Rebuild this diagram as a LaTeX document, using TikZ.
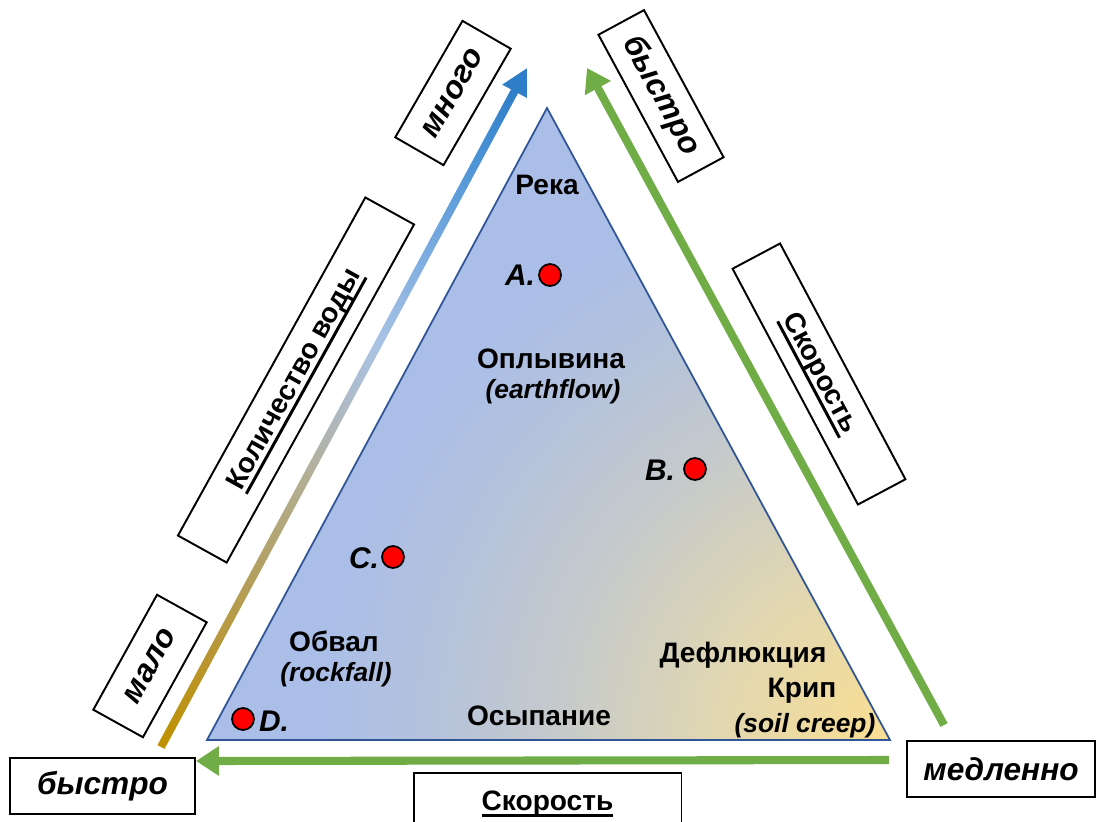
\documentclass[tikz,border=0pt]{standalone}
\usepackage{fontspec}
\setmainfont{Liberation Sans}
\usetikzlibrary{arrows.meta}
\definecolor{triblue}{RGB}{170,190,232}
\definecolor{triblueb}{RGB}{178,193,222}
\definecolor{trigrey}{RGB}{196,201,204}
\definecolor{tribeige}{RGB}{226,215,176}
\definecolor{triyellow}{RGB}{250,222,146}
\definecolor{triedgec}{RGB}{47,85,151}
\definecolor{wgold}{RGB}{191,144,0}
\definecolor{wgoldb}{RGB}{185,150,50}
\definecolor{wtan}{RGB}{178,162,105}
\definecolor{wtanb}{RGB}{178,175,150}
\definecolor{wgrey}{RGB}{175,185,195}
\definecolor{wlblue}{RGB}{170,195,228}
\definecolor{wmblue}{RGB}{130,175,225}
\definecolor{wmbluec}{RGB}{80,150,215}
\definecolor{wblue}{RGB}{46,125,200}
\definecolor{arrgreen}{RGB}{112,173,71}
\pgfdeclareradialshading{triradial}{\pgfpoint{0bp}{0bp}}{color(0bp)=(triyellow); color(5.9bp)=(tribeige); color(11.8bp)=(trigrey); color(16.7bp)=(triblueb); color(20.1bp)=(triblue); color(50bp)=(triblue)}
\pgfdeclarehorizontalshading{watershade}{100bp}{color(0bp)=(wgold); color(25bp)=(wgold); color(32bp)=(wgoldb); color(39.5bp)=(wtan); color(45.5bp)=(wtanb); color(50.5bp)=(wgrey); color(55.5bp)=(wlblue); color(61.5bp)=(wmblue); color(69bp)=(wmbluec); color(75bp)=(wblue); color(100bp)=(wblue)}
\newsavebox{\myulbox}
\newcommand{\myul}[1]{\leavevmode\sbox{\myulbox}{#1}\rlap{\rule[-4pt]{\wd\myulbox}{1.7pt}}\usebox{\myulbox}}
\begin{document}
\begin{tikzpicture}[x=0.02cm,y=-0.02cm,
  triedge/.style={draw=triedgec,line width=1pt,line join=miter},
  greenarrow/.style={draw=arrgreen,line width=4.6pt,-{Triangle[length=13pt,width=16pt]}},
  labelbox/.style={draw=black,fill=white,line width=1.1pt,inner sep=0pt,align=center},
  upbold/.style={font=\fontsize{16}{19}\selectfont\bfseries},
  itbold/.style={font=\fontsize{18}{21}\selectfont\bfseries\itshape},
  inlbl/.style={font=\fontsize{16}{19}\selectfont\bfseries,inner sep=0pt},
  inital/.style={font=\fontsize{15}{18}\selectfont\bfseries\itshape,inner sep=0pt},
  ptlbl/.style={font=\fontsize{17}{20}\selectfont\bfseries\itshape,inner sep=0pt},
  reddot/.style={circle,fill=red,draw=black,line width=1pt,minimum size=12.5pt,inner sep=0pt}]
\clip (0,0) rectangle (1097,821);
\fill[white] (0,0) rectangle (1097,821);
% triangle
\coordinate (apex) at (547,108);
\coordinate (bl) at (207,740);
\coordinate (br) at (890,740);
\begin{scope}
  \clip (apex) -- (bl) -- (br) -- cycle;
  \shade[shading=triradial] (170,20) rectangle (1610,1460);
\end{scope}
\draw[triedge] (apex) -- (bl) -- (br) -- cycle;
% water arrow (left)
\coordinate (wtail) at (161,747);
\coordinate (wtip) at (527,68);
\begin{scope}[transform canvas={shift={(161,747)},rotate=61.67}]
  \shade[shading=watershade] (0,-4) rectangle (748,4);
  \fill[wblue] (745,-14) -- (771,0) -- (745,14) -- cycle;
\end{scope}
% green arrows
\coordinate (gtail) at (944,725);
\coordinate (gtip) at (587,68);
\draw[greenarrow] (gtail) -- (gtip);
\coordinate (htail) at (889,760);
\coordinate (htip) at (196,761);
\draw[greenarrow] (htail) -- (htip);
% boxes
\node[labelbox,itbold,rotate=60,minimum width=76.5pt,minimum height=31.7pt] (bmnogo) at (453,93) {много};
\node[labelbox,upbold,rotate=61,minimum width=220pt,minimum height=31.7pt] (bvoda) at (296,380) {\myul{Количество воды}};
\node[labelbox,itbold,rotate=61,minimum width=74.8pt,minimum height=32.3pt] (bmalo) at (150,666) {мало};
\node[labelbox,itbold,rotate=-61.6,minimum width=95.2pt,minimum height=29.5pt] (bbystroTR) at (661,96) {быстро};
\node[labelbox,upbold,rotate=-62,minimum width=152pt,minimum height=30.6pt] (bskorR) at (819,374) {\myul{Скорость}};
\node[labelbox,itbold,minimum width=104.9pt,minimum height=31.7pt] (bbystroBL) at (102.5,786) {быстро};
\node[labelbox,itbold,minimum width=106.6pt,minimum height=31.7pt] (bmedl) at (1001,769) {медленно};
\node[labelbox,upbold,minimum width=152.5pt,minimum height=35pt] (bskorB) at (547.5,804) {\myul{Скорость}};
% inside texts
\node[inlbl] (reka) at (547,185) {Река};
\node[inlbl] (oplyv) at (551,359) {Оплывина};
\node[inital] (earth) at (553,392) {(earthflow)};
\node[inlbl] (obval) at (334,641) {Обвал};
\node[inital] (rock) at (336,675) {(rockfall)};
\node[inlbl] (osyp) at (539,716) {Осыпание};
\node[inlbl] (defl) at (743,655) {Дефлюкция};
\node[inlbl] (krip) at (802,691) {Крип};
\node[inital] (creep) at (805,726) {(soil creep)};
% points
\node[reddot] (dA) at (550,275) {};
\node[ptlbl] (lA) at (520,275) {A.};
\node[reddot] (dB) at (695,469) {};
\node[ptlbl] (lB) at (660,470) {B.};
\node[reddot] (dC) at (393,557) {};
\node[ptlbl] (lC) at (364,558) {C.};
\node[reddot] (dD) at (243,719) {};
\node[ptlbl] (lD) at (274,721) {D.};
\end{tikzpicture}
\end{document}
